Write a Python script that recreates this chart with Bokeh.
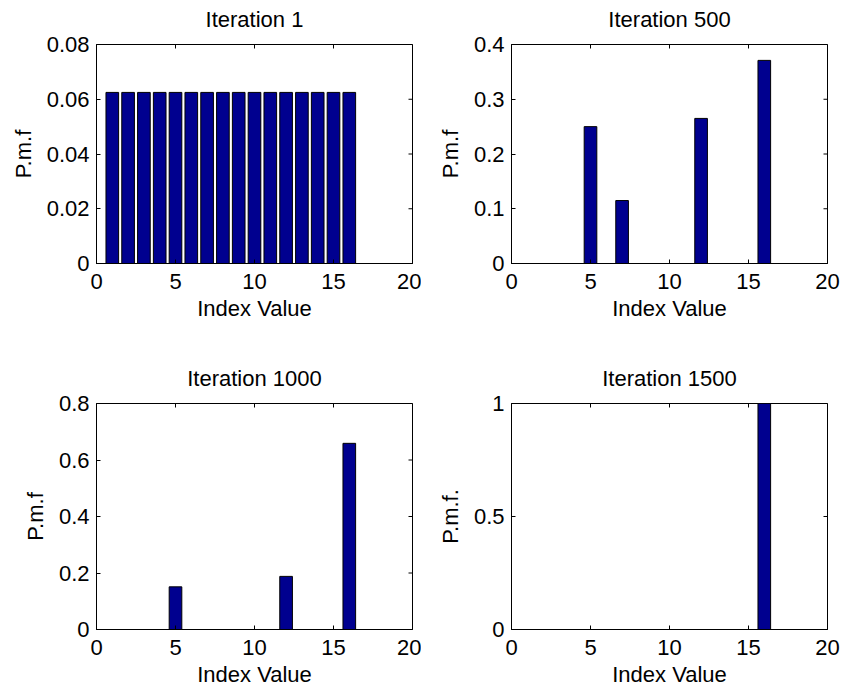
import math

from bokeh.plotting import figure
from bokeh.models import FixedTicker, Range1d, LinearAxis
from bokeh.layouts import column, row
from bokeh.embed import file_html
from bokeh.resources import INLINE

# Index values 1..16 and the probability mass at each one
index_values = [1, 2, 3, 4, 5, 6, 7, 8, 9, 10, 11, 12, 13, 14, 15, 16]

pmf_iter1 = [0.0625, 0.0625, 0.0625, 0.0625, 0.0625, 0.0625, 0.0625, 0.0625,
             0.0625, 0.0625, 0.0625, 0.0625, 0.0625, 0.0625, 0.0625, 0.0625]
pmf_iter500 = [0, 0, 0, 0, 0.25, 0, 0.115, 0, 0, 0, 0, 0.265, 0, 0, 0, 0.371]
pmf_iter1000 = [0, 0, 0, 0, 0.151, 0, 0, 0, 0, 0, 0, 0.188, 0, 0, 0, 0.659]
pmf_iter1500 = [0, 0, 0, 0, 0, 0, 0, 0, 0, 0, 0, 0, 0, 0, 0, 1.0]

titles = ["Iteration 1", "Iteration 500", "Iteration 1000", "Iteration 1500"]
y_labels = ["P.m.f", "P.m.f", "P.m.f", "P.m.f."]
x_label = "Index Value"

x_ticks = [0, 5, 10, 15, 20]
x_tick_labels = ["0", "5", "10", "15", "20"]

y_ticks_1 = [0, 0.02, 0.04, 0.06, 0.08]
y_tick_labels_1 = ["0", "0.02", "0.04", "0.06", "0.08"]
y_ticks_500 = [0, 0.1, 0.2, 0.3, 0.4]
y_tick_labels_500 = ["0", "0.1", "0.2", "0.3", "0.4"]
y_ticks_1000 = [0, 0.2, 0.4, 0.6, 0.8]
y_tick_labels_1000 = ["0", "0.2", "0.4", "0.6", "0.8"]
y_ticks_1500 = [0, 0.5, 1]
y_tick_labels_1500 = ["0", "0.5", "1"]

FONT = "Liberation Sans"
FS = "22px"
BAR_COLOR = "#00008F"
X_MAX = 20


def style_label(ax):
    ax.axis_label_text_font = FONT
    ax.axis_label_text_font_size = FS
    ax.axis_label_text_font_style = "normal"
    ax.axis_label_text_color = "black"


def panel(values, title, ylabel, yticks, ylabels, ymax,
          width, height, left, right, top, bottom):
    p = figure(width=width, height=height, output_backend="svg",
               toolbar_location=None, x_range=Range1d(0, X_MAX),
               y_range=Range1d(0, ymax),
               min_border_left=left, min_border_right=right,
               min_border_top=top, min_border_bottom=bottom)

    p.vbar(x=index_values, top=values, width=0.8, bottom=0,
           fill_color=BAR_COLOR, line_color="black", line_width=1)

    # inward tick marks on the top and right edges of the box
    p.scatter(x=x_ticks, y=[ymax] * len(x_ticks), marker="dash",
              angle=math.pi / 2, size=8, line_color="black", line_width=1)
    p.scatter(x=[X_MAX] * len(yticks), y=yticks, marker="dash",
              size=8, line_color="black", line_width=1)

    p.xgrid.visible = False
    p.ygrid.visible = False
    p.outline_line_color = "black"
    p.outline_line_width = 1
    p.background_fill_color = "white"
    p.border_fill_color = "white"

    xa = p.below[0]
    ya = p.left[0]

    # panel heading: a tickless axis above the box carrying the title text
    head = LinearAxis(ticker=FixedTicker(ticks=[]), axis_label=title)
    head.axis_line_color = None
    head.major_tick_line_color = None
    head.minor_tick_line_color = None
    head.axis_label_standoff = 13
    style_label(head)
    p.add_layout(head, "above")

    xa.ticker = FixedTicker(ticks=x_ticks)
    xa.major_label_overrides = {t: s for t, s in zip(x_ticks, x_tick_labels)}
    xa.axis_label = x_label
    xa.axis_label_standoff = 4
    xa.major_label_standoff = 10

    ya.ticker = FixedTicker(ticks=yticks)
    ya.major_label_overrides = {t: s for t, s in zip(yticks, ylabels)}
    ya.axis_label = ylabel
    ya.axis_label_standoff = 8
    ya.major_label_standoff = 7

    for ax in (xa, ya):
        style_label(ax)
        ax.major_label_text_font = FONT
        ax.major_label_text_font_size = FS
        ax.major_label_text_color = "black"
        ax.axis_line_color = "black"
        ax.major_tick_in = 4
        ax.major_tick_out = 0
        ax.major_tick_line_color = "black"
        ax.minor_tick_line_color = None
    return p


p1 = panel(pmf_iter1, titles[0], y_labels[0], y_ticks_1, y_tick_labels_1, 0.08,
           421, 340, 96, 9, 44, 77)
p2 = panel(pmf_iter500, titles[1], y_labels[1], y_ticks_500, y_tick_labels_500, 0.4,
           421, 340, 90, 15, 42, 72)
p3 = panel(pmf_iter1000, titles[2], y_labels[2], y_ticks_1000, y_tick_labels_1000, 0.8,
           421, 349, 96, 9, 63, 58)
p4 = panel(pmf_iter1500, titles[3], y_labels[3], y_ticks_1500, y_tick_labels_1500, 1.0,
           421, 349, 90, 15, 63, 57)

layout = column(row(p1, p2, spacing=0), row(p3, p4, spacing=0), spacing=0)

open("out.html", "w").write(file_html(layout, INLINE))
